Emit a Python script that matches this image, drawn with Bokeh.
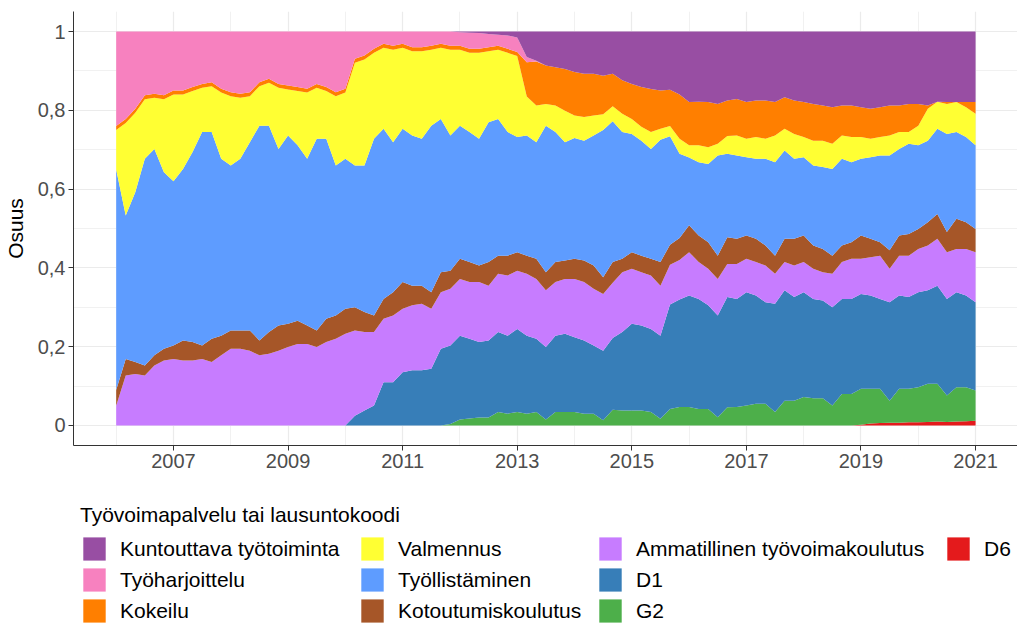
import numpy as np
from bokeh.plotting import figure
from bokeh.layouts import column
from bokeh.models import (ColumnDataSource, FixedTicker, CustomJSTickFormatter, Legend,
                          LegendItem, Range1d, NumeralTickFormatter)
from bokeh.embed import file_html
from bokeh.resources import INLINE

n_points = 91
years = 2006 + np.arange(n_points) / 6.0

kuntouttava = [0.0] * 36 + [
    .002, .003, .004, .006, .008, .010, .015, .065, .074, .086, .091, .095, .103, .107, .107,
    .112, .107, .124, .133, .141, .146, .150, .148, .160, .179, .178, .179, .184, .175, .171,
    .179, .175, .175, .179, .167, .175, .179, .184, .188, .192, .188, .188, .192, .196, .192,
    .188, .188, .184, .184, .188, .178, .179, .179, .179, .179]
tyoharjoittelu = [
    .240, .222, .196, .162, .158, .162, .150, .150, .141, .133, .129, .145, .154, .158, .154,
    .129, .120, .133, .137, .141, .145, .133, .141, .154, .145, .069, .061, .044, .031, .036,
    .031, .040, .040, .036, .031, .036, .034, .041, .040, .034, .028, .034, .037, .013, .002] + [0.0] * 46
kokeilu = [.010] * 43 + [
    .087, .112, .098, .097, .106, .110, .110, .106, .098, .083, .085, .089, .101, .109, .097,
    .092, .112, .110, .111, .115, .101, .090, .093, .093, .093, .097, .085, .080, .085, .089,
    .093, .089, .093, .076, .080, .076, .076, .076, .076, .067, .071, .055, .008, .000, .005,
    .000, .013, .030]
valmennus = [
    .100, .235, .202, .151, .130, .185, .220, .189, .155, .112, .116, .168, .176, .155, .117,
    .100, .109, .155, .117, .138, .168, .129, .121, .176, .168, .261, .269, .218, .206, .235,
    .206, .214, .222, .193, .181, .218, .193, .201, .218, .180, .176, .201, .206, .099, .093,
    .055, .067, .080, .057, .060, .051, .040, .038, .046, .038, .035, .043, .028, .026, .038,
    .031, .043, .042, .030, .045, .051, .047, .055, .051, .068, .055, .063, .051, .063, .067,
    .064, .059, .064, .055, .047, .047, .051, .043, .030, .050, .081, .069, .076, .076, .076,
    .080]
tyollistaminen = [
    .560, .364, .431, .525, .524, .448, .417, .435, .482, .542, .525, .449, .419, .436, .478,
    .545, .524, .448, .478, .445, .423, .487, .457, .381, .381, .360, .372, .449, .432, .381,
    .389, .381, .373, .423, .389, .343, .338, .330, .322, .355, .347, .314, .292, .305, .296,
    .372, .330, .300, .307, .304, .330, .374, .357, .322, .300, .292, .279, .310, .275, .214,
    .172, .186, .199, .254, .212, .211, .199, .203, .220, .237, .224, .203, .199, .203, .208,
    .220, .220, .203, .195, .207, .220, .240, .220, .229, .212, .207, .216, .249, .220, .216,
    .212]
kotoutumiskoulutus = [
    .040, .042, .030, .025, .026, .030, .034, .051, .047, .034, .059, .050, .046, .046, .051,
    .038, .055, .064, .059, .059, .047, .042, .059, .059, .063, .059, .051, .042, .050, .059,
    .068, .050, .046, .042, .051, .046, .051, .051, .042, .060, .046, .050, .047, .046, .051,
    .046, .051, .047, .051, .055, .059, .042, .053, .034, .042, .042, .042, .060, .051, .056,
    .068, .067, .067, .059, .068, .064, .059, .059, .051, .046, .059, .068, .067, .059, .059,
    .046, .042, .042, .059, .047, .034, .047, .051, .055, .051, .059, .063, .051, .077, .068,
    .059]
ammatillinen = [
    .050, .127, .131, .127, .152, .165, .169, .165, .165, .169, .161, .178, .195, .195, .190,
    .178, .182, .190, .199, .207, .207, .199, .212, .220, .233, .216, .199, .186, .161, .169,
    .161, .165, .169, .152, .143, .144, .144, .144, .152, .139, .148, .153, .148, .157, .152,
    .144, .136, .139, .148, .148, .144, .144, .140, .152, .140, .135, .136, .127, .101, .100,
    .110, .094, .093, .093, .084, .089, .085, .085, .093, .076, .072, .080, .077, .077, .072,
    .085, .094, .102, .089, .097, .110, .085, .101, .105, .110, .114, .119, .119, .110, .118,
    .127]
d1 = [0.0] * 25 + [
    .025, .038, .051, .110, .110, .135, .140, .140, .144, .195, .199, .213, .202, .192, .196,
    .203, .198, .211, .198, .186, .184, .194, .199, .190, .186, .173, .177, .182, .199, .220,
    .216, .211, .211, .265, .273, .283, .279, .263, .258, .280, .274, .287, .275, .258, .275,
    .280, .263, .266, .252, .248, .249, .241, .241, .241, .237, .228, .250, .237, .233, .241,
    .237, .249, .245, .241, .233, .224]
g2 = [0.0] * 35 + [
    .004, .015, .018, .020, .020, .034, .030, .034, .030, .034, .015, .034, .034, .034, .030,
    .030, .013, .040, .038, .038, .038, .034, .017, .042, .047, .047, .042, .042, .021, .046,
    .047, .051, .055, .055, .034, .063, .063, .072, .069, .069, .051, .080, .080, .091, .088,
    .087, .056, .086, .085, .089, .097, .096, .067, .087, .086, .077]
d6 = [0.0] * 78 + [
    .002, .005, .006, .007, .007, .008, .008, .009, .010, .009, .010, .011, .012]

# legend order (top of the stack first)
labels = ["Kuntouttava työtoiminta", "Työharjoittelu", "Kokeilu", "Valmennus",
          "Työllistäminen", "Kotoutumiskoulutus", "Ammatillinen työvoimakoulutus",
          "D1", "G2", "D6"]
values = [kuntouttava, tyoharjoittelu, kokeilu, valmennus, tyollistaminen,
          kotoutumiskoulutus, ammatillinen, d1, g2, d6]
colors = ["#984EA3", "#F781BF", "#FF7F00", "#FFFF33", "#5E9CFF",
          "#A65628", "#C77CFF", "#377EB8", "#4DAF4A", "#E41A1C"]
legend_title = "Työvoimapalvelu tai lausuntokoodi"
y_tick_values = [0, 0.2, 0.4, 0.6, 0.8, 1.0]
x_tick_years = [2007, 2009, 2011, 2013, 2015, 2017, 2019, 2021]

# ---- share normalisation (position = "fill") ----
arr = np.array(values, dtype=float)
arr = arr / arr.sum(axis=0)
keys = [f"s{i}" for i in range(len(labels))]
data = {"x": years}
for k, a in zip(keys, arr):
    data[k] = a
source = ColumnDataSource(data)

FONT = "Liberation Sans"

# ---------------- main chart ----------------
p = figure(width=1017, height=495, output_backend="svg", toolbar_location=None,
           x_range=Range1d(2005.255, 2021.732), y_range=Range1d(-0.0508, 1.0508),
           min_border_left=73, min_border_right=0, min_border_top=11, min_border_bottom=50)
p.background_fill_color = "white"
p.border_fill_color = "white"
p.outline_line_color = None

stack_keys = keys[::-1]          # bottom (D6) .. top (Kuntouttava)
stack_colors = colors[::-1]
p.varea_stack(stackers=stack_keys, x="x", color=stack_colors, source=source)

p.xaxis.ticker = FixedTicker(ticks=x_tick_years,
                             minor_ticks=[2006, 2008, 2010, 2012, 2014, 2016, 2018, 2020])
p.xaxis.formatter = NumeralTickFormatter(format="0")
p.yaxis.ticker = FixedTicker(ticks=y_tick_values,
                             minor_ticks=[0.1, 0.3, 0.5, 0.7, 0.9])
p.yaxis.formatter = CustomJSTickFormatter(
    code="return (Math.round(tick*10)/10).toString().replace('.', ',');")
p.yaxis.axis_label = "Osuus"

for ax in (p.xaxis, p.yaxis):
    ax.axis_line_color = "#333333"
    ax.axis_line_width = 1
    ax.major_tick_line_color = "#333333"
    ax.major_tick_out = 5
    ax.major_tick_in = 0
    ax.minor_tick_line_color = None
    ax.major_label_text_font = FONT
    ax.major_label_text_font_size = "20px"
    ax.major_label_text_color = "#4D4D4D"
    ax.axis_label_text_font = FONT
    ax.axis_label_text_font_size = "21px"
    ax.axis_label_text_font_style = "normal"
    ax.axis_label_text_color = "black"
p.xaxis.major_label_standoff = 3
p.yaxis.major_label_standoff = 3
p.yaxis.axis_label_standoff = 8

for g in (p.xgrid, p.ygrid):
    g.grid_line_color = "#EBEBEB"
    g.grid_line_width = 1.2
    g.minor_grid_line_color = "#EBEBEB"
    g.minor_grid_line_width = 0.7
p.ygrid.ticker = p.yaxis.ticker
p.xgrid.ticker = p.xaxis.ticker

# ---------------- legend strip ----------------
lg = figure(width=1017, height=128, output_backend="svg", toolbar_location=None,
            x_range=Range1d(0, 1), y_range=Range1d(0, 1),
            x_axis_location=None, y_axis_location=None,
            min_border_left=0, min_border_right=0, min_border_top=0, min_border_bottom=0)
lg.grid.visible = False
lg.outline_line_color = None
lg.background_fill_color = "white"
lg.border_fill_color = "white"

# zero-area proxy glyphs that only serve as legend keys
proxies = [lg.varea(x=[0, 0], y1=[0, 0], y2=[0, 0], color=c) for c in colors]

columns_idx = [[0, 1, 2], [3, 4, 5], [6, 7, 8], [9]]
col_left = [81, 359, 597, 945]
frame_offset = 74
glyph_h, gap = 29, 2
row1_top = 39
for ci, (idx, xl) in enumerate(zip(columns_idx, col_left)):
    n = len(idx)
    h = n * glyph_h + (n - 1) * gap
    vy = 128 - row1_top - h
    leg = Legend(
        items=[LegendItem(label=labels[i], renderers=[proxies[i]]) for i in idx],
        orientation="vertical", location=(xl - frame_offset, vy),
        border_line_color=None, background_fill_alpha=0,
        padding=0, margin=0, spacing=gap,
        glyph_width=28, glyph_height=glyph_h, label_height=glyph_h,
        label_standoff=12,
        label_text_font=FONT, label_text_font_size="21px", label_text_color="black",
    )
    if ci == 0:
        leg.title = legend_title
        leg.title_text_font = FONT
        leg.title_text_font_size = "21px"
        leg.title_text_font_style = "normal"
        leg.title_text_color = "black"
        leg.title_standoff = 7
    lg.add_layout(leg, "center")

layout = column(p, lg, spacing=0)
open("out.html", "w").write(file_html(layout, INLINE))
